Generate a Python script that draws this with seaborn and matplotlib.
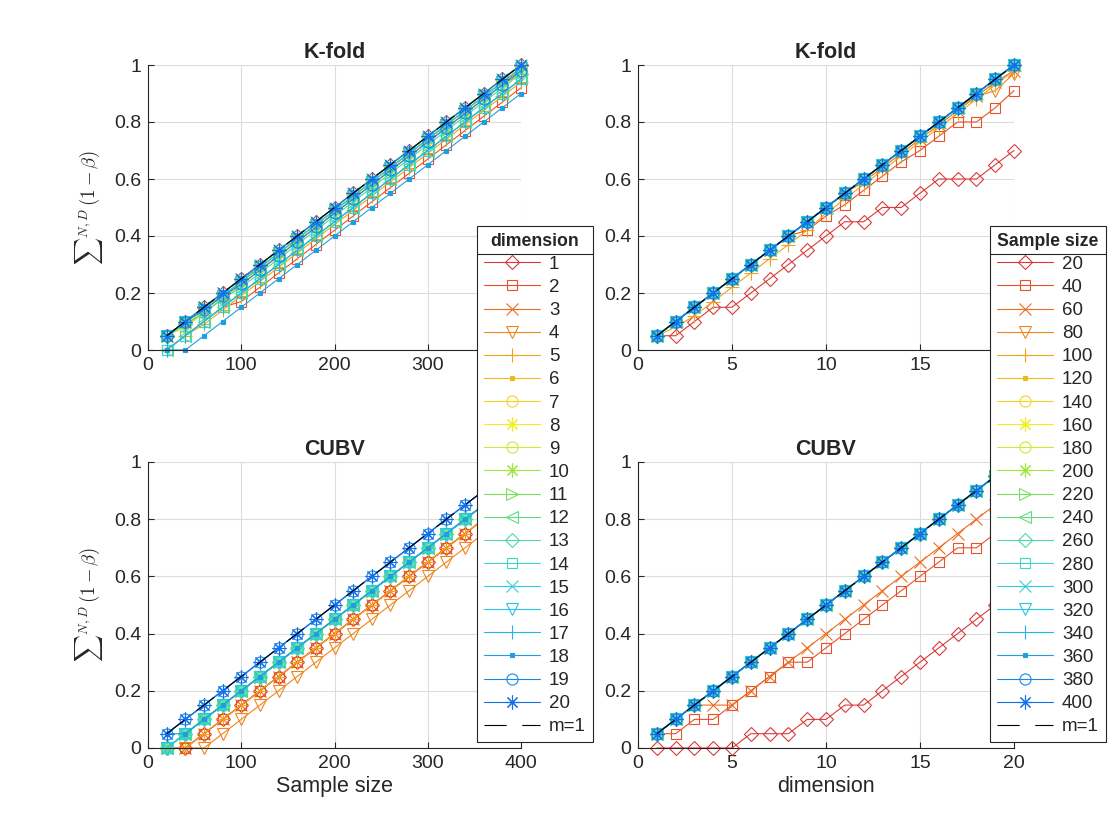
import matplotlib
matplotlib.use("Agg")
import matplotlib.pyplot as plt
from matplotlib.lines import Line2D
import seaborn as sns

# x values
sample_sizes = [20, 40, 60, 80, 100, 120, 140, 160, 180, 200,
                220, 240, 260, 280, 300, 320, 340, 360, 380, 400]
dimensions = list(range(1, 21))

# the m=1 reference line (same on every panel, in 20 steps)
ideal = [0.05, 0.10, 0.15, 0.20, 0.25, 0.30, 0.35, 0.40, 0.45, 0.50,
         0.55, 0.60, 0.65, 0.70, 0.75, 0.80, 0.85, 0.90, 0.95, 1.00]

# K-fold, one series per dimension (x = sample size)
kfold_by_dim = [
    ideal,
    [0.00, 0.05, 0.10, 0.15, 0.17, 0.22, 0.27, 0.32, 0.37, 0.42, 0.47, 0.52, 0.57, 0.62, 0.67, 0.72, 0.77, 0.82, 0.87, 0.92],
    [0.05, 0.10, 0.15, 0.20, 0.25, 0.29, 0.34, 0.39, 0.44, 0.49, 0.54, 0.59, 0.64, 0.69, 0.74, 0.79, 0.84, 0.89, 0.94, 0.98],
    [0.05, 0.09, 0.13, 0.18, 0.23, 0.28, 0.33, 0.38, 0.43, 0.48, 0.53, 0.58, 0.63, 0.68, 0.73, 0.78, 0.83, 0.88, 0.93, 0.97],
    [0.00, 0.05, 0.09, 0.14, 0.19, 0.24, 0.29, 0.34, 0.39, 0.44, 0.49, 0.54, 0.59, 0.64, 0.69, 0.74, 0.79, 0.84, 0.89, 0.94],
    [0.05, 0.10, 0.14, 0.19, 0.24, 0.29, 0.34, 0.39, 0.44, 0.49, 0.54, 0.59, 0.64, 0.69, 0.74, 0.79, 0.84, 0.89, 0.94, 0.99],
    [0.05, 0.08, 0.13, 0.18, 0.23, 0.28, 0.33, 0.38, 0.43, 0.48, 0.53, 0.58, 0.63, 0.68, 0.73, 0.78, 0.83, 0.88, 0.93, 0.98],
    ideal,
    [0.05, 0.09, 0.14, 0.19, 0.24, 0.29, 0.34, 0.39, 0.44, 0.49, 0.54, 0.59, 0.64, 0.69, 0.74, 0.79, 0.84, 0.89, 0.94, 0.99],
    ideal,
    [0.05, 0.10, 0.15, 0.19, 0.24, 0.29, 0.34, 0.39, 0.44, 0.49, 0.54, 0.59, 0.64, 0.69, 0.74, 0.79, 0.84, 0.89, 0.94, 0.99],
    [0.00, 0.05, 0.10, 0.15, 0.20, 0.25, 0.30, 0.35, 0.40, 0.45, 0.50, 0.55, 0.60, 0.65, 0.70, 0.75, 0.80, 0.85, 0.90, 0.95],
    [0.05, 0.09, 0.13, 0.18, 0.22, 0.27, 0.32, 0.37, 0.42, 0.47, 0.52, 0.57, 0.62, 0.67, 0.72, 0.77, 0.82, 0.87, 0.92, 0.97],
    [0.00, 0.05, 0.10, 0.15, 0.20, 0.25, 0.30, 0.35, 0.40, 0.45, 0.50, 0.55, 0.60, 0.65, 0.70, 0.75, 0.80, 0.85, 0.90, 0.95],
    ideal,
    [0.05, 0.10, 0.14, 0.19, 0.24, 0.29, 0.34, 0.39, 0.44, 0.49, 0.54, 0.59, 0.64, 0.69, 0.74, 0.79, 0.84, 0.89, 0.94, 0.99],
    [0.00, 0.05, 0.10, 0.15, 0.20, 0.25, 0.30, 0.35, 0.40, 0.45, 0.50, 0.55, 0.60, 0.65, 0.70, 0.75, 0.80, 0.85, 0.90, 0.95],
    [0.00, 0.00, 0.05, 0.10, 0.15, 0.20, 0.25, 0.30, 0.35, 0.40, 0.45, 0.50, 0.55, 0.60, 0.65, 0.70, 0.75, 0.80, 0.85, 0.90],
    [0.05, 0.10, 0.14, 0.19, 0.23, 0.28, 0.33, 0.38, 0.43, 0.48, 0.53, 0.58, 0.63, 0.68, 0.73, 0.78, 0.83, 0.88, 0.93, 0.98],
    ideal,
]

# K-fold, one series per sample size (x = dimension)
kfold_by_n = [
    [0.05, 0.05, 0.10, 0.15, 0.15, 0.20, 0.25, 0.30, 0.35, 0.40, 0.45, 0.45, 0.50, 0.50, 0.55, 0.60, 0.60, 0.60, 0.65, 0.70],
    [0.05, 0.10, 0.15, 0.20, 0.25, 0.30, 0.35, 0.40, 0.42, 0.47, 0.51, 0.56, 0.61, 0.66, 0.70, 0.75, 0.80, 0.80, 0.85, 0.91],
    [0.05, 0.10, 0.15, 0.20, 0.25, 0.30, 0.35, 0.40, 0.45, 0.50, 0.55, 0.59, 0.64, 0.69, 0.74, 0.79, 0.84, 0.89, 0.94, 0.98],
    [0.05, 0.10, 0.15, 0.20, 0.25, 0.30, 0.35, 0.40, 0.45, 0.50, 0.55, 0.60, 0.65, 0.70, 0.75, 0.80, 0.85, 0.89, 0.91, 0.97],
    [0.05, 0.08, 0.12, 0.17, 0.22, 0.27, 0.32, 0.37, 0.42, 0.48, 0.53, 0.58, 0.63, 0.68, 0.73, 0.78, 0.83, 0.88, 0.93, 0.98],
    ideal, ideal, ideal, ideal, ideal, ideal, ideal, ideal, ideal, ideal,
    ideal, ideal, ideal, ideal, ideal,
]

# CUBV, one series per dimension (x = sample size)
cubv_lag1 = [0.00, 0.05, 0.10, 0.15, 0.20, 0.25, 0.30, 0.35, 0.40, 0.45, 0.50, 0.55, 0.60, 0.65, 0.70, 0.75, 0.80, 0.85, 0.90, 0.95]
cubv_lag2 = [0.00, 0.00, 0.05, 0.10, 0.15, 0.20, 0.25, 0.30, 0.35, 0.40, 0.45, 0.50, 0.55, 0.60, 0.65, 0.70, 0.75, 0.80, 0.85, 0.90]
cubv_lag3 = [0.00, 0.00, 0.00, 0.05, 0.10, 0.15, 0.20, 0.25, 0.30, 0.35, 0.40, 0.45, 0.50, 0.55, 0.60, 0.65, 0.70, 0.75, 0.80, 0.85]
cubv_dim18 = [0.05, 0.05, 0.10, 0.15, 0.20, 0.25, 0.30, 0.35, 0.40, 0.45, 0.50, 0.55, 0.60, 0.65, 0.70, 0.75, 0.80, 0.85, 0.90, 0.95]
cubv_by_dim = [
    cubv_lag2, cubv_lag2, cubv_lag2, cubv_lag3, cubv_lag2,
    cubv_lag1, cubv_lag1, cubv_lag1, cubv_lag1, cubv_lag1,
    cubv_lag1, cubv_lag1, cubv_lag1, cubv_lag1, cubv_lag1,
    cubv_lag1, ideal, cubv_dim18, ideal, ideal,
]

# CUBV, one series per sample size (x = dimension)
cubv_by_n = [
    [0.00, 0.00, 0.00, 0.00, 0.00, 0.05, 0.05, 0.05, 0.10, 0.10, 0.15, 0.15, 0.20, 0.25, 0.30, 0.35, 0.40, 0.45, 0.50, 0.55],
    [0.05, 0.05, 0.10, 0.10, 0.15, 0.20, 0.25, 0.30, 0.30, 0.35, 0.40, 0.45, 0.50, 0.55, 0.60, 0.65, 0.70, 0.70, 0.75, 0.80],
    [0.05, 0.10, 0.15, 0.15, 0.15, 0.20, 0.25, 0.30, 0.35, 0.40, 0.45, 0.50, 0.55, 0.60, 0.65, 0.70, 0.75, 0.80, 0.85, 0.90],
    ideal, ideal, ideal, ideal, ideal, ideal, ideal, ideal, ideal, ideal,
    ideal, ideal, ideal, ideal, ideal, ideal, ideal,
]

colors = ["#d93b3b", "#e8522b", "#ee6b1f", "#f0861b", "#f2a21a",
          "#f0b91b", "#efd622", "#eeee22", "#c9ec33", "#a2e642",
          "#7ddf5e", "#62dc82", "#4adaa9", "#3ed6c9", "#31cfdb",
          "#29c5e6", "#22b3e8", "#1e9fe2", "#1a88e0", "#1470ea"]
asterisk = (8, 2, 0)
markers = ["D", "s", "x", "v", "+", "s", "o", asterisk, "o", asterisk,
           ">", "<", "D", "s", "x", "v", "|", "s", "o", asterisk]
msizes = [7.5, 7, 8, 8.5, 10, 3, 8, 10, 8, 10,
          8.5, 8.5, 7.5, 7, 8, 8.5, 10, 3, 8, 10]

sns.set_style("ticks")
plt.rcParams["font.family"] = ["Liberation Sans", "DejaVu Sans"]

fig = plt.figure(figsize=(11.2, 8.4), dpi=100)
W, H = 1120, 840


def make_ax(x0, x1, ytop, ybot):
    return fig.add_axes([x0 / W, 1 - ybot / H, (x1 - x0) / W, (ybot - ytop) / H])


ax_tl = make_ax(148, 521, 65, 350)
ax_tr = make_ax(638, 1014, 65, 350)
ax_bl = make_ax(148, 521, 462, 748)
ax_br = make_ax(638, 1014, 462, 748)

panels = [
    (ax_tl, sample_sizes, kfold_by_dim, "K-fold", (0, 400), [0, 100, 200, 300, 400]),
    (ax_tr, dimensions, kfold_by_n, "K-fold", (0, 20), [0, 5, 10, 15, 20]),
    (ax_bl, sample_sizes, cubv_by_dim, "CUBV", (0, 400), [0, 100, 200, 300, 400]),
    (ax_br, dimensions, cubv_by_n, "CUBV", (0, 20), [0, 5, 10, 15, 20]),
]

m1_style = (0, (20, 14))

for ax, xs, series, title, xlim, xticks in panels:
    for i, ys in enumerate(series):
        c = colors[i]
        filled = msizes[i] < 4
        sns.lineplot(x=xs, y=ys, ax=ax, color=c, marker=markers[i],
                     markersize=msizes[i], markerfacecolor=c if filled else "none",
                     markeredgecolor=c, markeredgewidth=0.8, linewidth=0.8,
                     errorbar=None, legend=False, clip_on=False)
    sns.lineplot(x=xs, y=ideal, ax=ax, color="black", linewidth=0.8,
                 linestyle=m1_style, errorbar=None, legend=False, clip_on=False)
    ax.set_xlim(*xlim)
    ax.set_ylim(0, 1)
    ax.set_xticks(xticks)
    ax.set_yticks([0, 0.2, 0.4, 0.6, 0.8, 1])
    ax.set_yticklabels(["0", "0.2", "0.4", "0.6", "0.8", "1"])
    ax.grid(True, color="#dcdcdc", linewidth=0.8)
    ax.set_axisbelow(True)
    ax.tick_params(direction="in", length=4, width=0.8, labelsize=14,
                   colors="#262626", pad=5)
    for s in ["top", "right"]:
        ax.spines[s].set_visible(False)
    for s in ["left", "bottom"]:
        ax.spines[s].set_color("#262626")
        ax.spines[s].set_linewidth(0.8)
    ax.set_title(title, fontsize=15.5, fontweight="bold", pad=5)
    ax.set_xlabel("")
    ax.set_ylabel("")

ylab = r"${\sum}^{N,D}\,(1-\beta)$"
for ax in (ax_tl, ax_bl):
    ax.set_ylabel(ylab, fontsize=13.5, math_fontfamily="cm", labelpad=6)
ax_bl.set_xlabel("Sample size", fontsize=15.5, labelpad=3)
ax_br.set_xlabel("dimension", fontsize=15.5, labelpad=3)

# legends built from the lines on the upper panels
legends = []
for ax, title, labels, x0 in [
    (ax_tl, "dimension", [str(d) for d in dimensions], 477),
    (ax_tr, "Sample size", [str(n) for n in sample_sizes], 990),
]:
    handles = list(ax.get_lines())[:21]
    leg = fig.legend(handles, labels + ["m=1"], title=title,
                     loc="upper left", bbox_to_anchor=(x0 / W, 1 - 226 / H),
                     borderaxespad=0, fontsize=13.5, handlelength=3.0,
                     handletextpad=0.48, labelspacing=0.32, borderpad=0.36,
                     fancybox=False, framealpha=1, edgecolor="#262626",
                     title_fontproperties={"weight": "bold", "size": 12.7})
    leg.get_frame().set_linewidth(0.8)
    legends.append(leg)

fig.canvas.draw()
renderer = fig.canvas.get_renderer()
inv = fig.transFigure.inverted()
for leg in legends:
    box = leg.get_window_extent(renderer)
    tbox = leg.get_title().get_window_extent(renderer)
    ysep = tbox.y0 - 4
    (x0f, yf) = inv.transform((box.x0, ysep))
    (x1f, _) = inv.transform((box.x1, ysep))
    fig.add_artist(Line2D([x0f, x1f], [yf, yf], transform=fig.transFigure,
                          color="#262626", linewidth=0.8, zorder=10))

fig.savefig("out.png", dpi=100)
